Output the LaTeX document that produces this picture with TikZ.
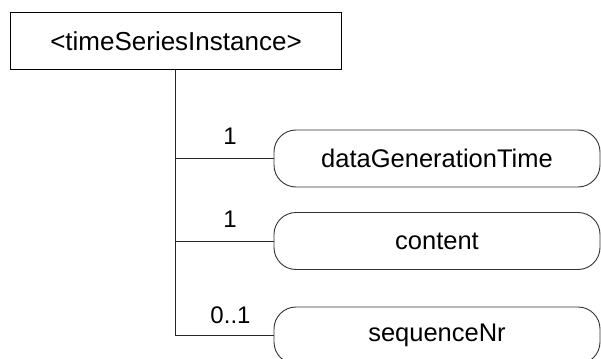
\documentclass[tikz,border=0pt]{standalone}
\usepackage{fontspec}
\setmainfont{Liberation Sans}
\begin{document}
\begin{tikzpicture}[x=1pt,y=-1pt,
  conn/.style={draw=black!85,line width=0.9pt},
  topbox/.style={draw=black,line width=1.2pt,minimum width=331pt,minimum height=57pt,inner sep=0pt,font=\fontsize{26}{30}\selectfont},
  elbox/.style={draw=black!80,line width=0.9pt,rounded corners=22pt,minimum width=326pt,minimum height=57pt,inner sep=0pt,font=\fontsize{25.5}{30}\selectfont},
  mult/.style={inner sep=0pt,font=\fontsize{24}{28}\selectfont}]
\useasboundingbox (0,0) rectangle (601,358);
\clip (0,0) rectangle (601,358);
\node[topbox] (tsi) at (176,41) {<timeSeriesInstance>};
\node[elbox] (dgt) at (437,158.5) {dataGenerationTime};
\node[elbox] (con) at (437,241) {content};
\node[elbox] (seq) at (437,335.5) {sequenceNr};
\coordinate (trunk) at (175,0);
\draw[conn] (trunk |- tsi.south) |- (seq.west);
\draw[conn] (trunk |- dgt.west) -- (dgt.west);
\draw[conn] (trunk |- con.west) -- (con.west);
\node[mult] (m1) at (230,136.5) {1};
\node[mult] (m2) at (230,219) {1};
\node[mult] (m3) at (230.5,315) {0..1};
\end{tikzpicture}
\end{document}
